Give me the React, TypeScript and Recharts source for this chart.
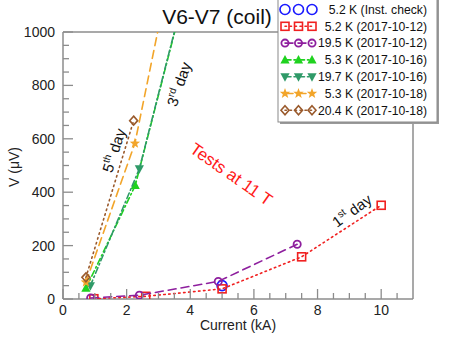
import { ScatterChart, Scatter, XAxis, YAxis } from "recharts";

type Pt = { i: number; v: number };

const toPts = (rows: [number, number][]): Pt[] => rows.map(([i, v]) => ({ i, v }));

// current (kA), voltage (uV); last points of the 3rd/5th day runs sit above 1000
const instCheck5K = toPts([[5.0, 50]]);
const day1Cold = toPts([[0.97, 1], [2.6, 10], [5.0, 38], [7.5, 158], [10.0, 351]]);
const day1Warm = toPts([[0.87, 4], [2.4, 14], [4.88, 66], [7.36, 205]]);
const day3Cold = toPts([[0.72, 40], [2.27, 425], [3.8, 1135]]);
const day3Warm = toPts([[0.86, 50], [2.4, 488], [3.8, 1140]]);
const day5Cold = toPts([[0.72, 63], [2.26, 583], [3.3, 1190]]);
const day5Warm = toPts([[0.72, 81], [2.22, 668]]);

const xMajor = [0, 2, 4, 6, 8, 10];
const xTicks = [0, 0.5, 1, 1.5, 2, 2.5, 3, 3.5, 4, 4.5, 5, 5.5, 6, 6.5, 7, 7.5, 8, 8.5, 9, 9.5, 10, 10.5];
const yMajor = [0, 200, 400, 600, 800, 1000];
const yTicks = [
  0, 50, 100, 150, 200, 250, 300, 350, 400, 450, 500, 550, 600, 650, 700, 750, 800, 850, 900, 950, 1000,
];

type Kind = "circle" | "square" | "ring" | "up" | "down" | "star" | "diamond";

const series = [
  { name: "5.2 K (Inst. check)", data: instCheck5K, color: "#1a1aff", kind: "circle" as Kind, dash: null },
  { name: "5.2 K (2017-10-12)", data: day1Cold, color: "#f02020", kind: "square" as Kind, dash: "1.5 3.5" },
  { name: "19.5 K (2017-10-12)", data: day1Warm, color: "#8e1f9e", kind: "ring" as Kind, dash: "8 5" },
  { name: "5.3 K (2017-10-16)", data: day3Cold, color: "#1fd21f", kind: "up" as Kind, dash: "6 3 1.5 3" },
  { name: "19.7 K (2017-10-16)", data: day3Warm, color: "#2f9a68", kind: "down" as Kind, dash: "6 3 1.5 3" },
  { name: "5.3 K (2017-10-18)", data: day5Cold, color: "#f2a52a", kind: "star" as Kind, dash: "8 5" },
  { name: "20.4 K (2017-10-18)", data: day5Warm, color: "#9a5a2c", kind: "diamond" as Kind, dash: "1.5 3.5" },
];

const FONT = "'Liberation Sans', Arial, Helvetica, sans-serif";
const AXIS = "#8c8c8c";

function Marker({ kind, cx, cy, color }: { kind: Kind; cx: number; cy: number; color: string }) {
  if (cx == null || cy == null) return null;
  switch (kind) {
    case "circle":
      return <circle cx={cx} cy={cy} r={5} fill="none" stroke={color} strokeWidth={1.6} />;
    case "square":
      return <rect x={cx - 4} y={cy - 4} width={8} height={8} fill="none" stroke={color} strokeWidth={1.6} />;
    case "ring":
      return <circle cx={cx} cy={cy} r={3.6} fill="none" stroke={color} strokeWidth={1.8} />;
    case "up":
      return <polygon points={`${cx},${cy - 5} ${cx - 4.6},${cy + 3.5} ${cx + 4.6},${cy + 3.5}`} fill={color} />;
    case "down":
      return <polygon points={`${cx},${cy + 5} ${cx - 4.6},${cy - 3.5} ${cx + 4.6},${cy - 3.5}`} fill={color} />;
    case "star": {
      const pts: string[] = [];
      for (let k = 0; k < 10; k++) {
        const r = k % 2 === 0 ? 5.5 : 2.3;
        const a = -Math.PI / 2 + (k * Math.PI) / 5;
        pts.push(`${cx + r * Math.cos(a)},${cy + r * Math.sin(a)}`);
      }
      return <polygon points={pts.join(" ")} fill={color} />;
    }
    case "diamond":
      return (
        <polygon
          points={`${cx},${cy - 4.5} ${cx + 4},${cy} ${cx},${cy + 4.5} ${cx - 4},${cy}`}
          fill="none"
          stroke={color}
          strokeWidth={1.6}
        />
      );
  }
  return null;
}

// inward ticks, longer on the labelled values; x/y given by recharts sit on the axis line
type Side = "bottom" | "top" | "left" | "right";
const makeTick = (side: Side, majors: number[], label: boolean) => (p: any) => {
  const { x, y, payload } = p;
  const major = majors.includes(payload.value);
  const len = major ? 10 : 6;
  const d = side === "bottom" || side === "right" ? -len : len;
  const vertical = side === "bottom" || side === "top";
  return (
    <g>
      <line
        x1={x}
        y1={y}
        x2={vertical ? x : x + d}
        y2={vertical ? y + d : y}
        stroke={AXIS}
        strokeWidth={1.3}
      />
      {label && major && side === "bottom" && (
        <text x={x} y={y + 16} textAnchor="middle" fontSize={14} fontFamily={FONT} fill="#222">
          {payload.value}
        </text>
      )}
      {label && major && side === "left" && (
        <text x={x - 8} y={y + 5} textAnchor="end" fontSize={14} fontFamily={FONT} fill="#222">
          {payload.value}
        </text>
      )}
    </g>
  );
};

function Overlay() {
  const rowY = (k: number) => 9.5 + k * 16.8;
  return (
    <svg
      width={450}
      height={347}
      style={{ position: "absolute", left: 0, top: 0, pointerEvents: "none" }}
      fontFamily={FONT}
    >
      <text x={217} y={24} textAnchor="middle" fontSize={21} fill="#111">
        V6-V7 (coil)
      </text>
      <text x={238} y={330} textAnchor="middle" fontSize={14} fill="#222">
        Current (kA)
      </text>
      <text transform="translate(19,167) rotate(-90)" textAnchor="middle" fontSize={14} fill="#222">
        V (μV)
      </text>

      <text transform="translate(228,179) rotate(35)" textAnchor="middle" fontSize={17} fill="#ff1a1a">
        Tests at 11 T
      </text>
      <text transform="translate(119,152) rotate(-72)" textAnchor="middle" fontSize={15} fill="#111">
        <tspan>5</tspan>
        <tspan dy={-6} fontSize={10}>th</tspan>
        <tspan dy={6}> day</tspan>
      </text>
      <text transform="translate(184,86) rotate(-71)" textAnchor="middle" fontSize={15} fill="#111">
        <tspan>3</tspan>
        <tspan dy={-6} fontSize={10}>rd</tspan>
        <tspan dy={6}> day</tspan>
      </text>
      <text transform="translate(355,215) rotate(-36)" textAnchor="middle" fontSize={15} fill="#111">
        <tspan>1</tspan>
        <tspan dy={-6} fontSize={10}>st</tspan>
        <tspan dy={6}> day</tspan>
      </text>

      <rect x={280} y={-2} width={159} height={126} fill="#9a9a9a" />
      <rect x={278} y={-4} width={159} height={126} fill="#fff" stroke="#8a8a8a" strokeWidth={1} />
      {series.map((s, k) => (
        <g key={s.name}>
          {s.dash && (
            <line
              x1={285}
              x2={312}
              y1={rowY(k)}
              y2={rowY(k)}
              stroke={s.color}
              strokeWidth={1.6}
              strokeDasharray={s.dash}
              strokeLinecap="round"
            />
          )}
          {[285, 298.5, 312].map((mx) => (
            <Marker key={mx} kind={s.kind} cx={mx} cy={rowY(k)} color={s.color} />
          ))}
          <text x={427} y={rowY(k) + 4.3} textAnchor="end" fontSize={12.2} fill="#111">
            {s.name}
          </text>
        </g>
      ))}
    </svg>
  );
}

export default function App() {
  const axisLine = { stroke: AXIS, strokeWidth: 1.5 };
  return (
    <div style={{ position: "absolute", left: 0, top: 0, width: 450, height: 347, background: "#fff" }}>
      <ScatterChart width={450} height={347} margin={{ top: 0, right: 0, bottom: 0, left: 0 }}>
        <XAxis
          xAxisId="x"
          type="number"
          dataKey="i"
          domain={[0, 11]}
          ticks={xTicks}
          interval={0}
          height={48}
          tickSize={0}
          tickMargin={0}
          tickLine={false}
          tick={makeTick("bottom", xMajor, true)}
          axisLine={axisLine}
        />
        <XAxis
          xAxisId="xt"
          orientation="top"
          type="number"
          dataKey="i"
          domain={[0, 11]}
          ticks={xTicks}
          interval={0}
          height={32}
          tickSize={0}
          tickMargin={0}
          tickLine={false}
          tick={makeTick("top", xMajor, false)}
          axisLine={axisLine}
        />
        <YAxis
          yAxisId="y"
          type="number"
          dataKey="v"
          domain={[0, 1000]}
          allowDataOverflow
          ticks={yTicks}
          interval={0}
          width={63}
          tickSize={0}
          tickMargin={0}
          tickLine={false}
          tick={makeTick("left", yMajor, true)}
          axisLine={axisLine}
        />
        <YAxis
          yAxisId="yr"
          orientation="right"
          type="number"
          dataKey="v"
          domain={[0, 1000]}
          ticks={yTicks}
          interval={0}
          width={37}
          tickSize={0}
          tickMargin={0}
          tickLine={false}
          tick={makeTick("right", yMajor, false)}
          axisLine={axisLine}
        />
        {series.map((s) => (
          <Scatter
            key={s.name}
            name={s.name}
            data={s.data}
            xAxisId="x"
            yAxisId="y"
            isAnimationActive={false}
            line={
              s.dash
                ? { stroke: s.color, strokeWidth: 1.6, strokeDasharray: s.dash, strokeLinecap: "round" }
                : false
            }
            lineType="joint"
            shape={(p: any) => <Marker kind={s.kind} cx={p.cx} cy={p.cy} color={s.color} />}
          />
        ))}
      </ScatterChart>
      <Overlay />
    </div>
  );
}
